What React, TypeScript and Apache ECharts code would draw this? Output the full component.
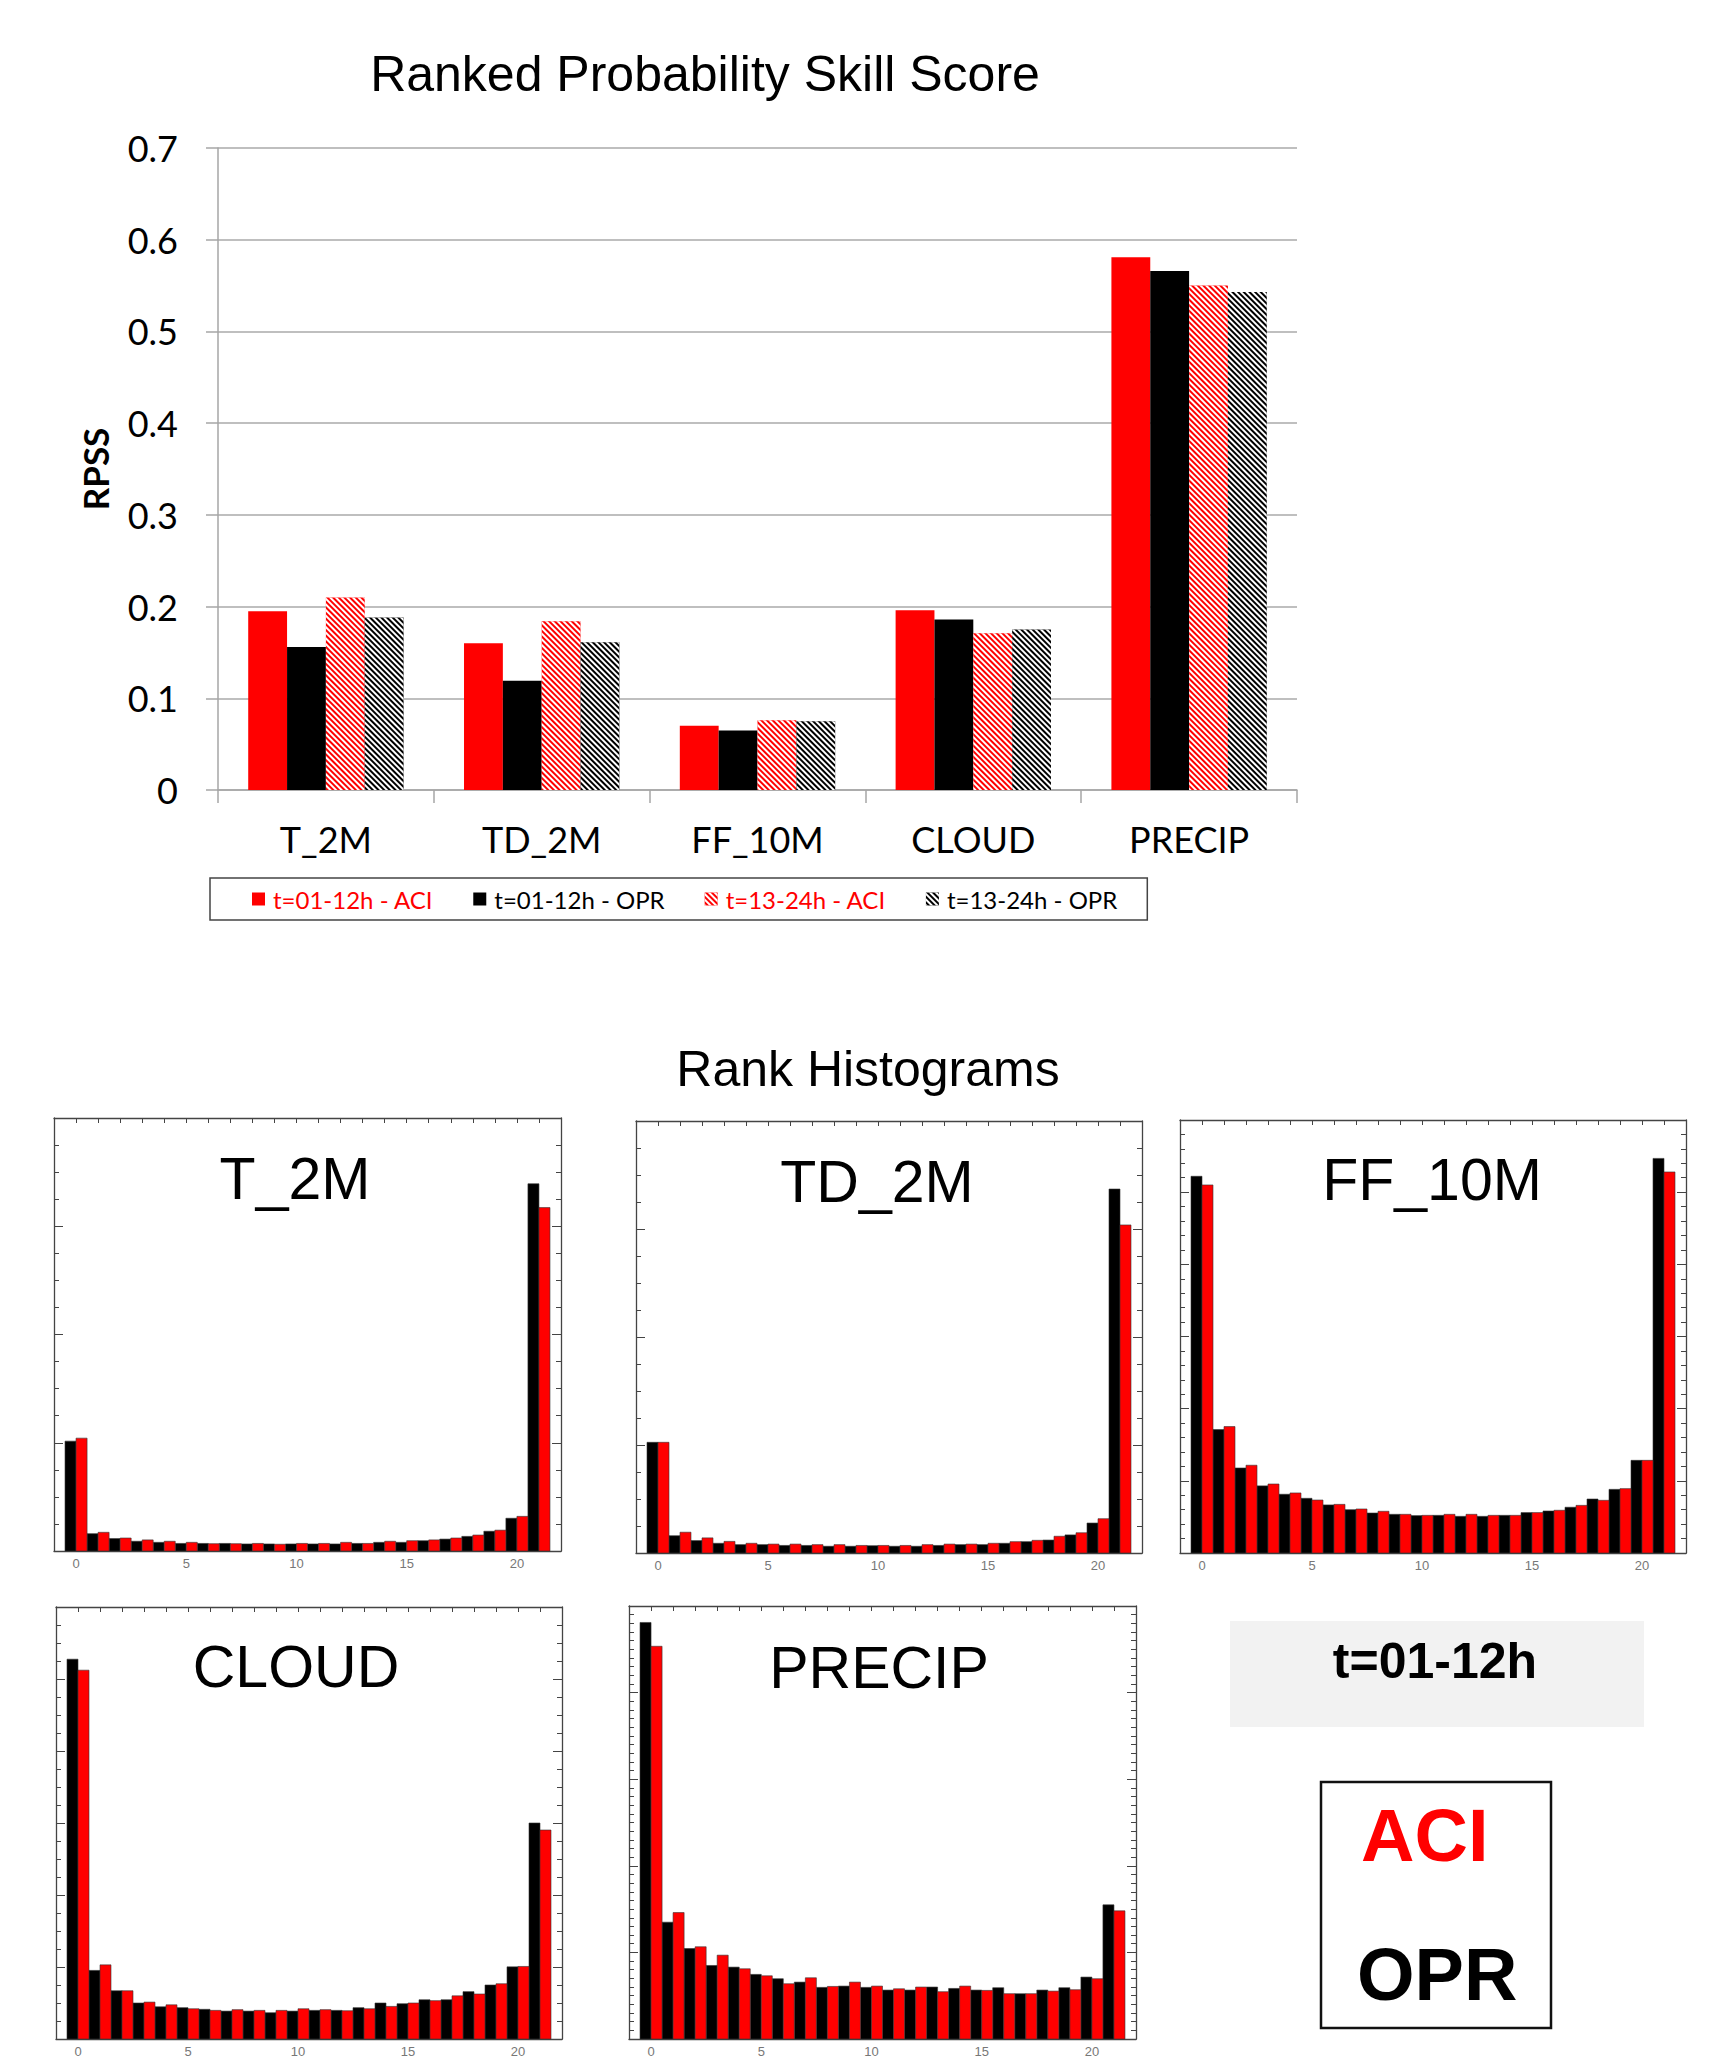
import React, { useEffect, useRef } from 'react';
import * as echarts from 'echarts';

// ---------- Top chart data (RPSS) ----------
const categories = ['T_2M', 'TD_2M', 'FF_10M', 'CLOUD', 'PRECIP'];
const aciEarly = [0.195, 0.160, 0.070, 0.196, 0.581];
const oprEarly = [0.156, 0.119, 0.065, 0.186, 0.566];
const aciLate = [0.210, 0.184, 0.076, 0.171, 0.550];
const oprLate = [0.188, 0.161, 0.075, 0.175, 0.543];
const yTicks = [0, 0.1, 0.2, 0.3, 0.4, 0.5, 0.6, 0.7];
const seriesNames = ['t=01-12h - ACI', 't=01-12h - OPR', 't=13-24h - ACI', 't=13-24h - OPR'];

// ---------- Rank histogram data (ranks 0..21, arbitrary units) ----------
const ranks = [0, 1, 2, 3, 4, 5, 6, 7, 8, 9, 10, 11, 12, 13, 14, 15, 16, 17, 18, 19, 20, 21];
const histTitles = ['T_2M', 'TD_2M', 'FF_10M', 'CLOUD', 'PRECIP'];
const t2mOpr = [4.06, 0.64, 0.46, 0.36, 0.32, 0.28, 0.28, 0.28, 0.26, 0.26, 0.26, 0.26, 0.26, 0.28, 0.32, 0.32, 0.38, 0.44, 0.54, 0.73, 1.21, 13.57];
const t2mAci = [4.17, 0.69, 0.48, 0.41, 0.36, 0.32, 0.27, 0.27, 0.28, 0.25, 0.28, 0.28, 0.32, 0.28, 0.36, 0.38, 0.41, 0.48, 0.59, 0.77, 1.28, 12.69];
const td2mOpr = [4.10, 0.64, 0.46, 0.36, 0.31, 0.31, 0.28, 0.28, 0.25, 0.25, 0.27, 0.25, 0.25, 0.28, 0.31, 0.31, 0.36, 0.42, 0.48, 0.67, 1.11, 13.48];
const td2mAci = [4.10, 0.77, 0.56, 0.43, 0.36, 0.33, 0.33, 0.31, 0.31, 0.28, 0.28, 0.28, 0.31, 0.33, 0.33, 0.36, 0.42, 0.47, 0.62, 0.75, 1.27, 12.15];
const ff10mOpr = [26.1, 8.55, 5.89, 4.65, 4.07, 3.79, 3.33, 3.00, 2.77, 2.68, 2.59, 2.61, 2.54, 2.54, 2.61, 2.80, 2.91, 3.17, 3.74, 4.41, 6.42, 27.34];
const ff10mAci = [25.5, 8.76, 6.08, 4.78, 4.16, 3.67, 3.37, 3.05, 2.89, 2.68, 2.61, 2.68, 2.68, 2.61, 2.61, 2.80, 2.96, 3.30, 3.65, 4.46, 6.42, 26.4];
const cloudOpr = [21.1, 3.81, 2.68, 2.00, 1.79, 1.74, 1.65, 1.55, 1.55, 1.46, 1.55, 1.59, 1.59, 1.74, 2.00, 1.96, 2.18, 2.18, 2.63, 3.00, 4.01, 12.0];
const cloudAci = [20.49, 4.12, 2.68, 2.05, 1.90, 1.68, 1.59, 1.63, 1.59, 1.59, 1.68, 1.63, 1.57, 1.68, 1.81, 2.00, 2.13, 2.40, 2.50, 3.07, 4.03, 11.61];
const precipOpr = [48.1, 13.49, 10.45, 8.49, 8.30, 7.46, 6.96, 6.57, 5.96, 6.11, 5.96, 5.65, 5.65, 6.00, 5.84, 5.65, 5.92, 5.23, 5.65, 5.92, 7.15, 15.49];
const precipAci = [45.35, 14.6, 10.65, 9.68, 8.11, 7.30, 6.38, 7.07, 6.07, 6.57, 6.11, 5.80, 6.00, 5.46, 6.11, 5.61, 5.23, 5.23, 5.53, 5.69, 6.96, 14.8];
const histOpr = [t2mOpr, td2mOpr, ff10mOpr, cloudOpr, precipOpr];
const histAci = [t2mAci, td2mAci, ff10mAci, cloudAci, precipAci];
const histYMax = [16, 16, 30, 24, 50];
const histYMajor = [4, 4, 5, 4, 10];
const histYMinorSplit = [4, 4, 5, 4, 10];
const histXLabels = [0, 5, 10, 15, 20];

// ---------- Layout (positions / styles) ----------
const NARROW = "'Liberation Sans Narrow', 'Arial Narrow', Lato, sans-serif";
const ARIAL = "'Liberation Sans', Arial, Helvetica, sans-serif";
const RED = '#ff0000';
const BLACK = '#000000';

const panels = [
  { left: 54, top: 1118, width: 507, height: 433, tx: 295, ty: 1179 },
  { left: 636, top: 1121, width: 506, height: 432, tx: 877, ty: 1182 },
  { left: 1180, top: 1120, width: 506, height: 433, tx: 1432, ty: 1180 },
  { left: 56, top: 1607, width: 506, height: 432, tx: 296, ty: 1667 },
  { left: 629, top: 1606, width: 507, height: 433, tx: 879, ty: 1668 },
];

function barRenderer(offStart: number, offEnd: number, color: string) {
  return (params: any, api: any) => {
    const x = api.value(0);
    const v = api.value(1);
    const p0 = api.coord([x + offStart, 0]);
    const p1 = api.coord([x + offEnd, v]);
    return {
      type: 'rect',
      shape: { x: p0[0], y: p1[1], width: p1[0] - p0[0], height: p0[1] - p1[1] },
      style: { fill: color, stroke: '#333', lineWidth: 0.6 },
    };
  };
}

function hatch(color: string) {
  return {
    symbol: 'rect',
    symbolSize: 1,
    color: color,
    dashArrayX: [1, 0],
    dashArrayY: [1.5, 1.5],
    rotation: Math.PI / 4,
  };
}

function buildOption() {
  const grid: any[] = [{ left: 218, top: 148, width: 1079, height: 642 }];
  const xAxis: any[] = [
    {
      type: 'category',
      gridIndex: 0,
      data: categories,
      axisLine: { lineStyle: { color: '#a6a6a6', width: 1.5 } },
      axisTick: { show: true, length: 13, lineStyle: { color: '#a6a6a6', width: 1.5 } },
      axisLabel: { color: BLACK, fontSize: 36, fontFamily: NARROW, margin: 31 },
    },
  ];
  const yAxis: any[] = [
    {
      type: 'value',
      gridIndex: 0,
      min: 0,
      max: 0.7,
      interval: 0.1,
      name: 'RPSS',
      nameLocation: 'middle',
      nameGap: 106,
      nameTextStyle: { fontSize: 35, fontWeight: 'bold', fontFamily: NARROW, color: BLACK },
      axisLine: { show: true, lineStyle: { color: '#a6a6a6', width: 1.5 } },
      axisTick: { show: true, length: 12, lineStyle: { color: '#a6a6a6', width: 1.5 } },
      axisLabel: {
        color: BLACK,
        fontSize: 36,
        fontFamily: NARROW,
        margin: 40,
        formatter: (v: number) => {
          const t = yTicks.find((k) => Math.abs(k - v) < 1e-9);
          return t === undefined ? '' : t === 0 ? '0' : t.toFixed(1);
        },
      },
      splitLine: { show: true, lineStyle: { color: '#bfbfbf', width: 2 } },
    },
  ];

  const series: any[] = [
    {
      name: seriesNames[0], type: 'bar', xAxisIndex: 0, yAxisIndex: 0, data: aciEarly,
      itemStyle: { color: RED }, barGap: '0%', barCategoryGap: '28%',
    },
    {
      name: seriesNames[1], type: 'bar', xAxisIndex: 0, yAxisIndex: 0, data: oprEarly,
      itemStyle: { color: BLACK }, barGap: '0%', barCategoryGap: '28%',
    },
    {
      name: seriesNames[2], type: 'bar', xAxisIndex: 0, yAxisIndex: 0, data: aciLate,
      itemStyle: { color: RED, decal: hatch('#ffffff') }, barGap: '0%', barCategoryGap: '28%',
    },
    {
      name: seriesNames[3], type: 'bar', xAxisIndex: 0, yAxisIndex: 0, data: oprLate,
      itemStyle: { color: BLACK, decal: hatch('#ffffff') }, barGap: '0%', barCategoryGap: '28%',
    },
  ];

  const frame = { color: '#444', width: 1.3 };
  panels.forEach((p, i) => {
    const g = i + 1;
    grid.push({ left: p.left, top: p.top, width: p.width, height: p.height });
    const xb = xAxis.length;
    xAxis.push({
      type: 'value', gridIndex: g, min: -1, max: 22, interval: 1, position: 'bottom',
      axisLine: { show: true, onZero: false, lineStyle: frame },
      axisTick: { show: false },
      splitLine: { show: false },
      axisLabel: {
        color: '#777', fontSize: 13, fontFamily: ARIAL, margin: 6,
        formatter: (v: number) => (histXLabels.indexOf(v) >= 0 ? String(v) : ''),
      },
    });
    xAxis.push({
      type: 'value', gridIndex: g, min: -1, max: 22, interval: 1, position: 'top',
      axisLine: { show: true, onZero: false, lineStyle: frame },
      axisTick: { show: true, inside: true, length: 5, lineStyle: { color: '#444', width: 1 } },
      splitLine: { show: false },
      axisLabel: { show: false },
    });
    const yl = yAxis.length;
    const yCommon = {
      type: 'value', gridIndex: g, min: 0, max: histYMax[i], interval: histYMajor[i],
      axisLine: { show: true, onZero: false, lineStyle: frame },
      axisTick: { show: true, inside: true, length: 9, lineStyle: { color: '#444', width: 1 } },
      minorTick: { show: true, splitNumber: histYMinorSplit[i], length: 5, lineStyle: { color: '#444', width: 1 } },
      splitLine: { show: false },
      minorSplitLine: { show: false },
      axisLabel: { show: false },
    };
    yAxis.push({ ...yCommon, position: 'left' });
    yAxis.push({ ...yCommon, position: 'right' });

    series.push({
      name: 'OPR ' + histTitles[i], type: 'custom', xAxisIndex: xb, yAxisIndex: yl,
      renderItem: barRenderer(-0.5, 0, BLACK),
      data: ranks.map((r) => [r, histOpr[i][r]]),
      encode: { x: 0, y: 1 },
    });
    series.push({
      name: 'ACI ' + histTitles[i], type: 'custom', xAxisIndex: xb, yAxisIndex: yl,
      renderItem: barRenderer(0, 0.5, RED),
      data: ranks.map((r) => [r, histAci[i][r]]),
      encode: { x: 0, y: 1 },
    });
  });

  const text = (t: string, x: number, y: number, size: number, opts: any = {}) => ({
    type: 'text',
    x,
    y,
    z: 10,
    style: {
      text: t,
      fontSize: size,
      fontFamily: opts.family || ARIAL,
      fontWeight: opts.weight || 'normal',
      fill: opts.fill || BLACK,
      align: opts.align || 'center',
      verticalAlign: 'middle',
      textAlign: opts.align || 'center',
      textVerticalAlign: 'middle',
    },
  });

  const graphic: any[] = [
    text('Ranked Probability Skill Score', 705, 74, 50),
    text('Rank Histograms', 868, 1069, 50),
    ...panels.map((p, i) => text(histTitles[i], p.tx, p.ty, 59)),
    {
      type: 'rect', z: 1,
      shape: { x: 1230, y: 1621, width: 414, height: 106 },
      style: { fill: '#f2f2f2' },
    },
    text('t=01-12h', 1435, 1661, 50, { weight: 'bold' }),
    {
      type: 'rect', z: 1,
      shape: { x: 1321, y: 1782, width: 230, height: 246 },
      style: { fill: 'none', stroke: '#111', lineWidth: 2.5 },
    },
    text('ACI', 1361, 1835, 74, { weight: 'bold', fill: RED, align: 'left' }),
    text('OPR', 1357, 1974, 74, { weight: 'bold', align: 'left' }),
  ];

  return {
    animation: false,
    backgroundColor: '#ffffff',
    legend: {
      left: 210,
      top: 878,
      orient: 'horizontal',
      icon: 'rect',
      itemWidth: 13,
      itemHeight: 13,
      itemGap: 40,
      padding: [9, 30, 9, 42],
      borderColor: '#444',
      borderWidth: 1.5,
      selectedMode: false,
      textStyle: { fontFamily: NARROW, fontSize: 24, color: BLACK, padding: [0, 0, 0, 3] },
      data: [
        { name: seriesNames[0], textStyle: { color: RED } },
        { name: seriesNames[1], textStyle: { color: BLACK } },
        { name: seriesNames[2], textStyle: { color: RED } },
        { name: seriesNames[3], textStyle: { color: BLACK } },
      ],
    },
    grid,
    xAxis,
    yAxis,
    series,
    graphic,
  };
}

export default function App() {
  const ref = useRef<HTMLDivElement>(null);
  useEffect(() => {
    document.body.style.margin = '0';
    if (!ref.current) return;
    const chart = echarts.init(ref.current, undefined, { renderer: 'svg' });
    chart.setOption(buildOption() as any);
    return () => chart.dispose();
  }, []);
  return (
    <div
      ref={ref}
      style={{ position: 'absolute', left: 0, top: 0, width: 1717, height: 2061, background: '#fff' }}
    />
  );
}
